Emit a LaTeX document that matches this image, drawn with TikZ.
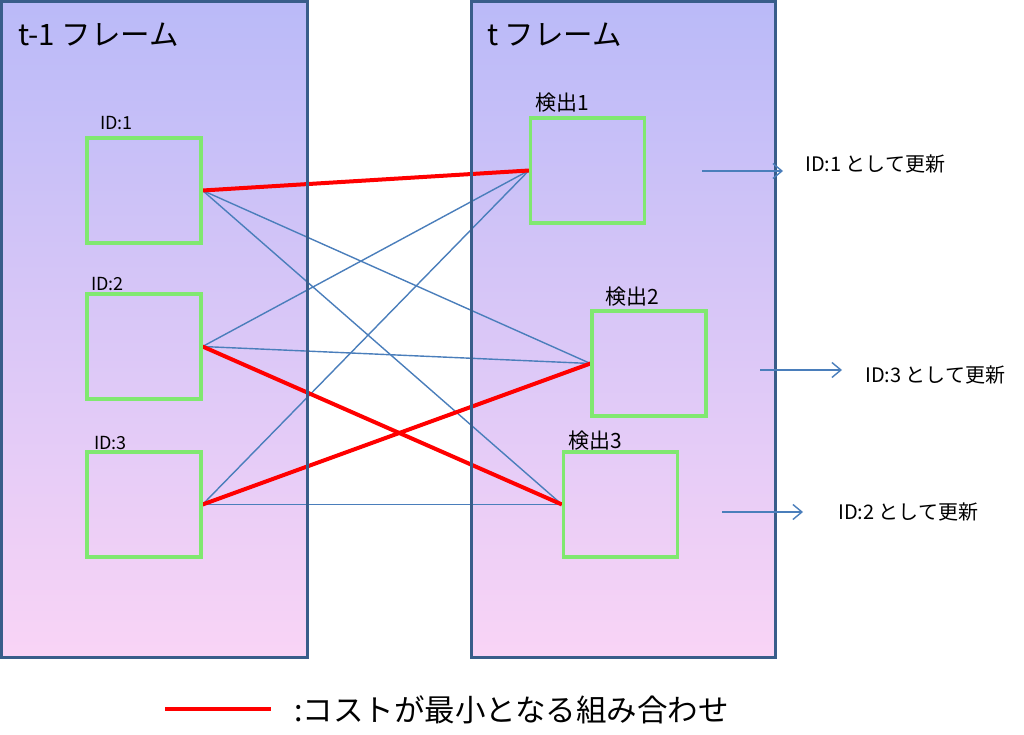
\documentclass[tikz,border=0pt]{standalone}
\usepackage{fontspec}
\setmainfont{Noto Sans CJK JP}
\usetikzlibrary{arrows.meta}
\definecolor{frameborder}{RGB}{56,93,138}
\definecolor{linkblue}{RGB}{74,126,187}
\definecolor{boxgreen}{RGB}{128,232,112}
\definecolor{topfill}{RGB}{186,186,248}
\definecolor{botfill}{RGB}{249,212,246}
\tikzset{
  framefill/.style={top color=topfill, bottom color=botfill, draw=none},
  frameline/.style={draw=frameborder, line width=3pt},
  detbox/.style={draw=boxgreen, line width=3.2pt, minimum width=114pt, minimum height=105pt, inner sep=0pt},
  idlabel/.style={font=\fontsize{18}{21}\selectfont, anchor=base west, inner sep=0pt},
  detlabel/.style={font=\fontsize{21}{24}\selectfont, anchor=base west, inner sep=0pt},
  titlelabel/.style={font=\fontsize{29.5}{34}\selectfont, anchor=base west, inner sep=0pt},
  updlabel/.style={font=\fontsize{20}{23}\selectfont, anchor=base west, inner sep=0pt},
  weak/.style={draw=linkblue, line width=1.4pt},
  best/.style={draw=red, line width=4pt},
  updarrow/.style={draw=linkblue, line width=1.4pt, -{Straight Barb[length=9pt,width=15pt,line width=1.4pt]}},
}
\begin{document}
\begin{tikzpicture}[x=1pt,y=-1pt]
\useasboundingbox (0,0) rectangle (1024,735);
% frames background
\path[framefill] (1.5,1.5) rectangle (307.5,657.5);
\path[framefill] (471.5,1.5) rectangle (775.5,657.5);
% boxes
\node[detbox] (id1) at (144,190.5) {};
\node[detbox] (id2) at (144,346.5) {};
\node[detbox] (id3) at (144,504.5) {};
\node[detbox] (d1) at (587.5,170.5) {};
\node[detbox] (d2) at (649,363.5) {};
\node[detbox] (d3) at (620.5,504.5) {};
% weak links
\draw[weak] (id1.east) -- (d2.west);
\draw[weak] (id1.east) -- (d3.west);
\draw[weak] (id2.east) -- (d1.west);
\draw[weak] (id2.east) -- (d2.west);
\draw[weak] (id3.east) -- (d1.west);
\draw[weak] (id3.east) -- (d3.west);
% best links
\draw[best] (id1.east) -- (d1.west);
\draw[best] (id2.east) -- (d3.west);
\draw[best] (id3.east) -- (d2.west);
% frame borders on top
\draw[frameline] (1.5,1.5) rectangle (307.5,657.5);
\draw[frameline] (471.5,1.5) rectangle (775.5,657.5);
% redraw boxes on top
\node[detbox] at (id1) {};
\node[detbox] at (id2) {};
\node[detbox] at (id3) {};
\node[detbox] at (d1) {};
\node[detbox] at (d2) {};
\node[detbox] at (d3) {};
% titles
\node[titlelabel] (t1) at (18,46) {t-1 フレーム};
\node[titlelabel] (t2) at (487,46) {t フレーム};
% box labels
\node[idlabel] (l1) at (100,130) {ID:1};
\node[idlabel] (l2) at (91,290) {ID:2};
\node[idlabel] (l3) at (94,449) {ID:3};
\node[detlabel] (k1) at (535,111) {検出1};
\node[detlabel] (k2) at (605,304) {検出2};
\node[detlabel] (k3) at (568,448) {検出3};
% update arrows
\coordinate (a1s) at (702,171);
\coordinate (a1e) at (783,171);
\coordinate (a2s) at (760,370);
\coordinate (a2e) at (842,370);
\coordinate (a3s) at (722,512);
\coordinate (a3e) at (803,512);
\draw[updarrow] (a1s) -- (a1e);
\draw[updarrow] (a2s) -- (a2e);
\draw[updarrow] (a3s) -- (a3e);
\node[updlabel] (u1) at (805,172) {ID:1 として更新};
\node[updlabel] (u2) at (865,382) {ID:3 として更新};
\node[updlabel] (u3) at (838,519) {ID:2 として更新};
% legend
\coordinate (lgs) at (165,709);
\coordinate (lge) at (271,709);
\draw[best, line width=4.5pt] (lgs) -- (lge);
\node[anchor=base west, inner sep=0pt, font=\fontsize{30.5}{35}\selectfont] (lgt) at (294,721) {:コストが最小となる組み合わせ};
\end{tikzpicture}
\end{document}
